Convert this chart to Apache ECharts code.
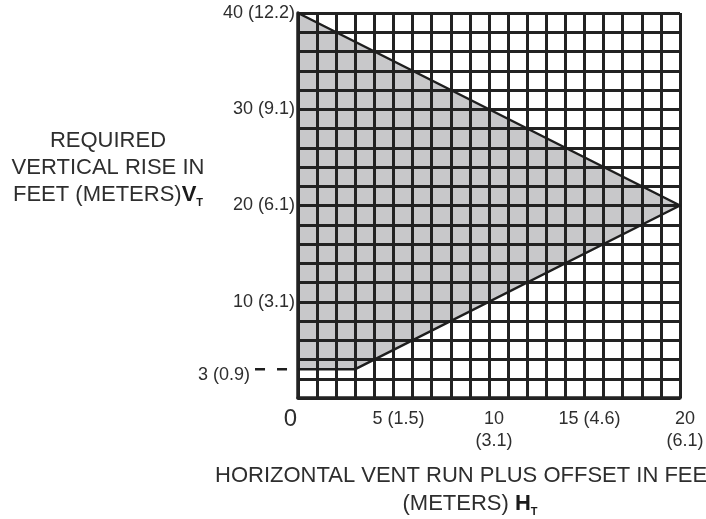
<!DOCTYPE html>
<html>
<head>
<meta charset="utf-8">
<script src="https://cdn.jsdelivr.net/npm/echarts@6/dist/echarts.min.js"></script>
<style>
  html, body { margin: 0; padding: 0; background: #ffffff; }
  #chart { width: 706px; height: 519px; }
</style>
</head>
<body>
<div id="chart"></div>
<script>
// ---- data ----
const xTickValues = [0, 5, 10, 15, 20];
const xTickLabels = ['0', '5 (1.5)', '10\n(3.1)', '15 (4.6)', '20\n(6.1)'];
const yTickValues = [10, 20, 30, 40];
const yTickLabels = ['10 (3.1)', '20 (6.1)', '30 (9.1)', '40 (12.2)'];
// allowed region polygon (horizontal run HT, vertical rise VT)
const regionX = [0, 20, 3, 0];
const regionY = [40, 20, 3, 3];
// minimum rise leader (dashed)
const minRiseX = [-2.25, -0.5];
const minRiseY = 3;
const minRiseLabel = '3 (0.9)';

const FONT = 'Liberation Sans';
const TXT = '#2e2e2e';
const GRIDC = '#222222';

const chart = echarts.init(document.getElementById('chart'), null, { renderer: 'canvas' });

const option = {
  animation: false,
  backgroundColor: '#ffffff',
  grid: { left: 298, right: 26, top: 13, bottom: 121, containLabel: false, outerBoundsMode: 'none' },
  xAxis: {
    type: 'value', min: 0, max: 20, interval: 1,
    axisLine: { show: true, onZero: false, lineStyle: { color: GRIDC, width: 3.5 } },
    axisTick: { show: false },
    splitLine: { show: true, lineStyle: { color: GRIDC, width: 3 } },
    axisLabel: {
      show: true, margin: 10, color: TXT, fontFamily: FONT, fontSize: 18,
      formatter: function (v) {
        const i = xTickValues.indexOf(v);
        if (i < 0) return '';
        if (v === 0) return '{z|' + xTickLabels[i] + '}';
        return xTickLabels[i].split('\n').map(s => '{n|' + s + '}').join('\n');
      },
      rich: {
        n: { fontSize: 18, fontFamily: FONT, color: TXT, lineHeight: 22, padding: [0, 0, 0, 10] },
        z: { fontSize: 24, fontFamily: FONT, color: TXT, lineHeight: 22, padding: [0, 15, 0, 0] }
      }
    }
  },
  yAxis: {
    type: 'value', min: 0, max: 40, interval: 2,
    axisLine: { show: true, onZero: false, lineStyle: { color: GRIDC, width: 3.5 } },
    axisTick: { show: false },
    splitLine: { show: true, lineStyle: { color: GRIDC, width: 3 } },
    axisLabel: {
      show: true, margin: 3, color: TXT, fontFamily: FONT, fontSize: 18,
      padding: [6, 0, 0, 0],
      formatter: function (v) {
        const i = yTickValues.indexOf(v);
        return i < 0 ? '' : yTickLabels[i];
      }
    }
  },
  series: [
    {
      type: 'custom',
      z: -1,
      silent: true,
      data: [[0, 0]],
      renderItem: function (params, api) {
        const pts = regionX.map((x, i) => api.coord([x, regionY[i]]));
        return { type: 'polygon', shape: { points: pts }, style: { fill: '#c8c8ca' } };
      }
    },
    {
      type: 'line',
      z: 5,
      silent: true,
      symbol: 'none',
      data: regionX.map((x, i) => [x, regionY[i]]),
      lineStyle: { color: '#1e1e1e', width: 2.5 }
    },
    {
      type: 'custom',
      z: 5,
      silent: true,
      clip: false,
      data: [[minRiseX[0], minRiseY]],
      renderItem: function (params, api) {
        const a = api.coord([minRiseX[0], minRiseY]);
        const b = api.coord([minRiseX[1], minRiseY]);
        return {
          type: 'group',
          children: [
            { type: 'line', shape: { x1: a[0], y1: a[1], x2: b[0], y2: b[1] },
              style: { stroke: '#1e1e1e', lineWidth: 2.5, lineDash: [10, 12] } },
            { type: 'text', x: a[0] - 5, y: a[1] + 6,
              style: { text: minRiseLabel, align: 'right', verticalAlign: 'middle',
                       fontSize: 18, fontFamily: FONT, fill: TXT } }
          ]
        };
      }
    }
  ],
  graphic: [
    {
      type: 'text', x: 108, y: 127, silent: true,
      style: {
        text: '{a|REQUIRED}\n{a|VERTICAL RISE IN}\n{a|FEET (METERS)}{b|V}{s|T}',
        align: 'center', verticalAlign: 'top',
        rich: {
          a: { fontSize: 22, fontFamily: FONT, fill: TXT, lineHeight: 27 },
          b: { fontSize: 22, fontFamily: FONT, fontWeight: 'bold', fill: '#1a1a1a', lineHeight: 27 },
          s: { fontSize: 11, fontFamily: FONT, fontWeight: 'bold', fill: '#1a1a1a', lineHeight: 27, verticalAlign: 'bottom' }
        }
      }
    },
    {
      type: 'text', x: 215, y: 476, silent: true,
      style: {
        text: 'HORIZONTAL VENT RUN PLUS OFFSET IN FEET',
        align: 'left', verticalAlign: 'middle',
        fontSize: 22, fontFamily: FONT, fill: TXT
      }
    },
    {
      type: 'text', x: 470, y: 504, silent: true,
      style: {
        text: '{a|(METERS) }{b|H}{s|T}',
        align: 'center', verticalAlign: 'middle',
        rich: {
          a: { fontSize: 22, fontFamily: FONT, fill: TXT, lineHeight: 27 },
          b: { fontSize: 22, fontFamily: FONT, fontWeight: 'bold', fill: '#1a1a1a', lineHeight: 27 },
          s: { fontSize: 11, fontFamily: FONT, fontWeight: 'bold', fill: '#1a1a1a', lineHeight: 27, verticalAlign: 'bottom' }
        }
      }
    }
  ]
};

chart.setOption(option);
</script>
</body>
</html>
